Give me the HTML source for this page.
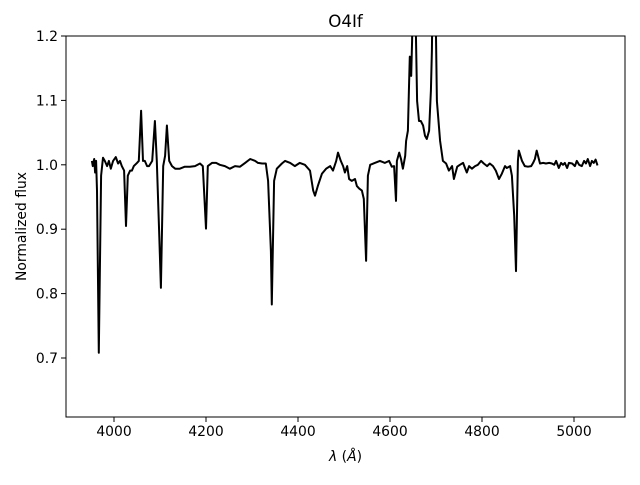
<!DOCTYPE html>
<html><head><meta charset="utf-8"><style>
body{margin:0;background:#fff}
svg text{font-family:"DejaVu Sans","Liberation Sans",sans-serif;font-size:13.9px;fill:#000}
</style></head><body>
<svg id="chart" width="640" height="480">
<defs><clipPath id="clip"><rect x="66" y="36" width="559" height="381"/></clipPath></defs>
<g id="axes"></g>
<path id="line" clip-path="url(#clip)" fill="none" stroke="#000" stroke-width="2" stroke-linejoin="round"></path>
<rect x="66" y="36" width="559" height="381" fill="none" stroke="#000" stroke-width="1"/>
<text x="345.5" y="27" text-anchor="middle" style="font-size:16.7px">O4If</text>
<text x="345.5" y="461" text-anchor="middle"><tspan font-style="italic">λ</tspan> (<tspan font-style="italic">Å</tspan>)</text>
<text transform="translate(26,226.5) rotate(-90)" text-anchor="middle">Normalized flux</text>
</svg>
<script>
const wavelengths=[3952,3954,3957,3959,3961,3963,3967,3972,3976,3980,3985,3989,3993,3998,4004,4009,4013,4017,4022,4026,4030,4035,4039,4043,4050,4054,4059,4063,4067,4072,4076,4083,4089,4093,4098,4102,4107,4111,4115,4120,4126,4133,4143,4154,4165,4176,4187,4193,4200,4204,4213,4222,4230,4241,4252,4263,4274,4285,4296,4307,4313,4322,4330,4335,4341,4343,4348,4354,4365,4372,4383,4393,4404,4415,4426,4433,4437,4443,4452,4461,4470,4476,4483,4487,4493,4498,4502,4507,4511,4517,4524,4528,4533,4539,4543,4548,4552,4557,4567,4578,4589,4598,4604,4609,4613,4615,4620,4624,4628,4633,4635,4639,4641,4643,4646,4648,4650,4654,4659,4663,4667,4672,4676,4680,4685,4689,4691,4693,4698,4702,4709,4715,4722,4728,4735,4739,4746,4752,4759,4763,4767,4772,4778,4785,4791,4798,4804,4811,4817,4824,4830,4837,4843,4850,4854,4861,4865,4870,4874,4878,4880,4887,4893,4900,4907,4911,4915,4919,4926,4933,4939,4946,4952,4957,4961,4967,4972,4976,4980,4985,4989,4996,5002,5006,5011,5017,5022,5026,5030,5035,5039,5043,5047,5051];
const fluxes=[1.006,0.998,1.009,0.988,1.006,0.96,0.708,0.983,1.011,1.006,0.998,1.006,0.994,1.006,1.012,1.002,1.006,0.998,0.991,0.905,0.983,0.991,0.991,0.998,1.003,1.006,1.084,1.006,1.006,0.998,0.998,1.006,1.068,1.006,0.898,0.809,0.998,1.014,1.061,1.006,0.998,0.994,0.994,0.997,0.997,0.998,1.002,0.998,0.901,0.998,1.003,1.003,1.0,0.998,0.994,0.998,0.997,1.003,1.009,1.006,1.003,1.002,1.002,0.975,0.866,0.783,0.975,0.994,1.002,1.006,1.003,0.998,1.003,1.0,0.991,0.96,0.952,0.967,0.986,0.994,0.998,0.991,1.006,1.019,1.006,0.998,0.988,0.998,0.978,0.975,0.978,0.967,0.963,0.96,0.947,0.851,0.983,1.0,1.003,1.006,1.003,1.006,0.997,0.998,0.944,1.006,1.019,1.009,0.994,1.014,1.037,1.053,1.115,1.168,1.138,1.193,1.3,1.3,1.099,1.068,1.068,1.061,1.045,1.04,1.053,1.115,1.177,1.3,1.3,1.099,1.037,1.006,1.002,0.991,0.998,0.978,0.997,1.0,1.003,0.995,0.988,0.998,0.994,0.998,1.0,1.006,1.002,0.998,1.002,0.998,0.991,0.978,0.986,0.998,0.995,0.998,0.983,0.921,0.835,1.006,1.022,1.006,0.998,0.997,0.998,1.003,1.009,1.022,1.002,1.003,1.002,1.003,1.002,1.0,1.006,0.995,1.003,1.0,1.003,0.995,1.003,1.002,0.998,1.006,1.0,0.998,1.006,1.002,1.009,0.998,1.006,1.003,1.008,0.999,1.004];
const xTicks=[4000,4200,4400,4600,4800,5000];
const yTicks=[0.7,0.8,0.9,1.0,1.1,1.2];
const X=v=>114+(v-4000)*0.46;
const Y=v=>36+(1.2-v)*644;
const ns="http://www.w3.org/2000/svg";
const axes=document.getElementById('axes');
xTicks.forEach(t=>{
  const l=document.createElementNS(ns,'line');
  l.setAttribute('x1',X(t));l.setAttribute('x2',X(t));l.setAttribute('y1',417);l.setAttribute('y2',422);l.setAttribute('stroke','#000');l.setAttribute('stroke-width','1');
  
  
  axes.appendChild(l);
  const tx=document.createElementNS(ns,'text');
  tx.setAttribute('x',X(t));tx.setAttribute('y',436);tx.setAttribute('text-anchor','middle');tx.textContent=t;
  
  
  axes.appendChild(tx);
});
yTicks.forEach(t=>{
  const l=document.createElementNS(ns,'line');
  l.setAttribute('x1',61);l.setAttribute('x2',66);l.setAttribute('y1',Y(t));l.setAttribute('y2',Y(t));l.setAttribute('stroke','#000');l.setAttribute('stroke-width','1');
  
  
  axes.appendChild(l);
  const tx=document.createElementNS(ns,'text');
  tx.setAttribute('x',58);tx.setAttribute('y',Y(t)+5);tx.setAttribute('text-anchor','end');tx.textContent=t.toFixed(1);
  
  
  axes.appendChild(tx);
});
document.getElementById('line').setAttribute('d',wavelengths.map((w,i)=>(i?'L':'M')+X(w).toFixed(1)+' '+Y(fluxes[i]).toFixed(1)).join(' '));
</script>
</body></html>
